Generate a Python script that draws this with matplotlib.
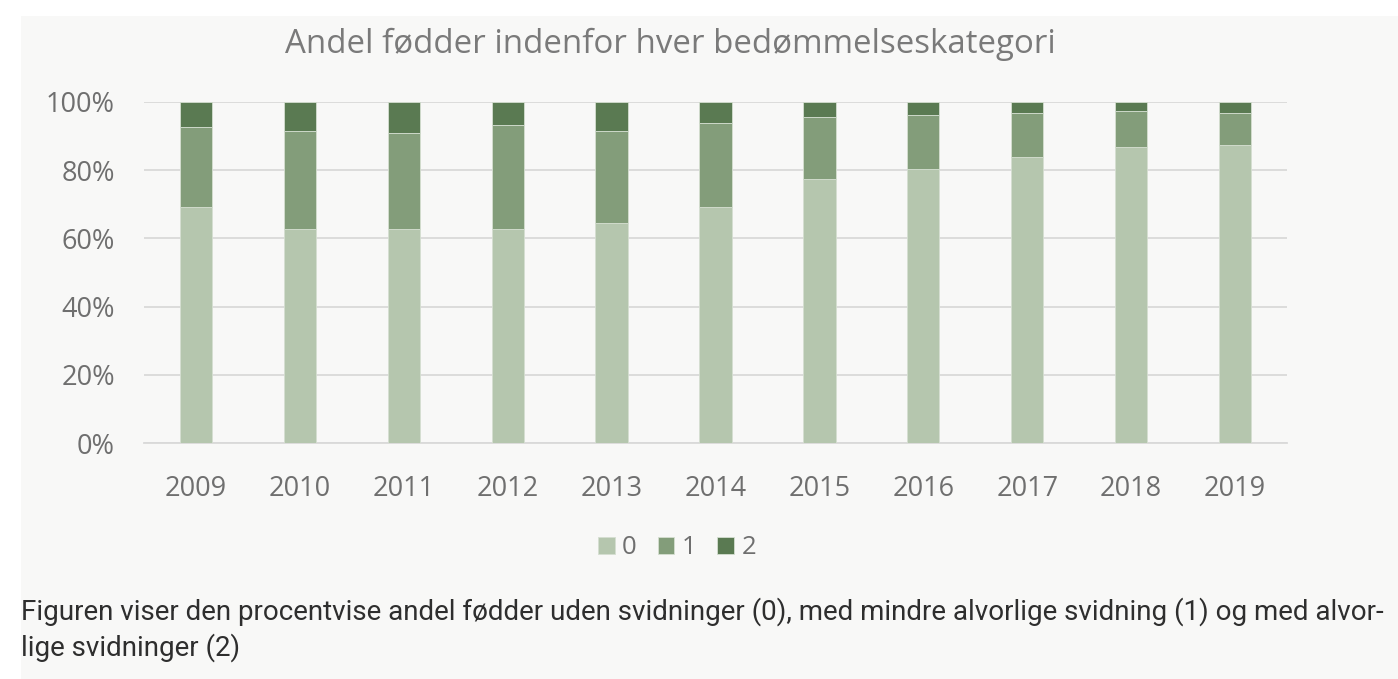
import matplotlib.pyplot as plt
import numpy as np
from matplotlib.patches import Rectangle

# data (percent)
years = ['2009', '2010', '2011', '2012', '2013', '2014', '2015', '2016', '2017', '2018', '2019']
cat0 = [69.1, 62.7, 62.7, 62.7, 64.4, 69.1, 77.3, 80.3, 83.8, 86.7, 87.3]
cat1 = [23.5, 28.7, 28.1, 30.5, 27.0, 24.7, 18.2, 15.8, 12.9, 10.6, 9.4]
cat2 = [7.4, 8.6, 9.2, 6.8, 8.6, 6.2, 4.5, 3.9, 3.3, 2.7, 3.3]
labels = ['0', '1', '2']
colors = ['#b5c6ae', '#839d7a', '#5a7a52']

title = 'Andel fødder indenfor hver bedømmelseskategori'
caption1 = 'Figuren viser den procentvise andel fødder uden svidninger (0), med mindre alvorlige svidning (1) og med alvor-'
caption2 = 'lige svidninger (2)'

plt.rcParams['font.family'] = ['Open Sans', 'DejaVu Sans']

W, H = 1398, 679
fig = plt.figure(figsize=(W / 100, H / 100), dpi=100)
fig.patch.set_facecolor('white')

# gray panel behind everything
fig.patches.append(Rectangle((21 / W, 0), 1 - 21 / W, 1 - 16 / H,
                             transform=fig.transFigure, facecolor='#f8f8f7',
                             edgecolor='none', zorder=-5))

ax = fig.add_axes([144 / W, 1 - 443 / H, (1287 - 144) / W, (443 - 102) / H])
ax.set_facecolor('none')
ax.set_zorder(2)

x = np.arange(len(years))
tot = np.array(cat0) + np.array(cat1) + np.array(cat2)
series = [np.array(cat0) / tot, np.array(cat1) / tot, np.array(cat2) / tot]
bottom = np.zeros(len(years))
handles = []
for vals, c, lab in zip(series, colors, labels):
    b = ax.bar(x, vals, 0.31, bottom=bottom, color=c, edgecolor='#d5dfd1',
               linewidth=0.6, label=lab, zorder=3)
    handles.append(b)
    bottom = bottom + vals

ax.set_xlim(-0.5, len(years) - 0.5)
ax.set_ylim(0, 1)
ax.set_yticks(np.arange(0, 1.01, 0.2))
ax.set_yticklabels([f'{int(round(v * 100))}%' for v in np.arange(0, 1.01, 0.2)])
ax.set_xticks(x)
ax.set_xticklabels(years)
ax.tick_params(axis='both', length=0, labelsize=19.5, labelcolor='#6f6f6f')
ax.tick_params(axis='y', pad=21)
ax.tick_params(axis='x', pad=23)
ax.grid(axis='y', color='#d9d9d9', linewidth=1.3, zorder=0)
for s in ['top', 'right', 'left']:
    ax.spines[s].set_visible(False)
ax.spines['bottom'].set_color('#d9d9d9')
ax.spines['bottom'].set_linewidth(1.3)

fig.text(670 / W, 1 - 44 / H, title, ha='center', va='center',
         fontsize=23.8, color='#7a7a7a')

fig.legend(handles=handles, labels=labels, loc='center', bbox_to_anchor=(677 / W, 1 - 548 / H),
           ncol=3, frameon=False, fontsize=18.5, labelcolor='#6f6f6f',
           handlelength=0.65, handleheight=0.65, handletextpad=0.3, columnspacing=0.8)

cap_font = ['Roboto', 'DejaVu Sans']
fig.text(21 / W, 1 - 612 / H, caption1, ha='left', va='center', fontsize=20,
         color='#2e2e2e', family=cap_font)
fig.text(21 / W, 1 - 648 / H, caption2, ha='left', va='center', fontsize=20,
         color='#2e2e2e', family=cap_font)

fig.savefig('out.png', dpi=100, facecolor=fig.get_facecolor())
